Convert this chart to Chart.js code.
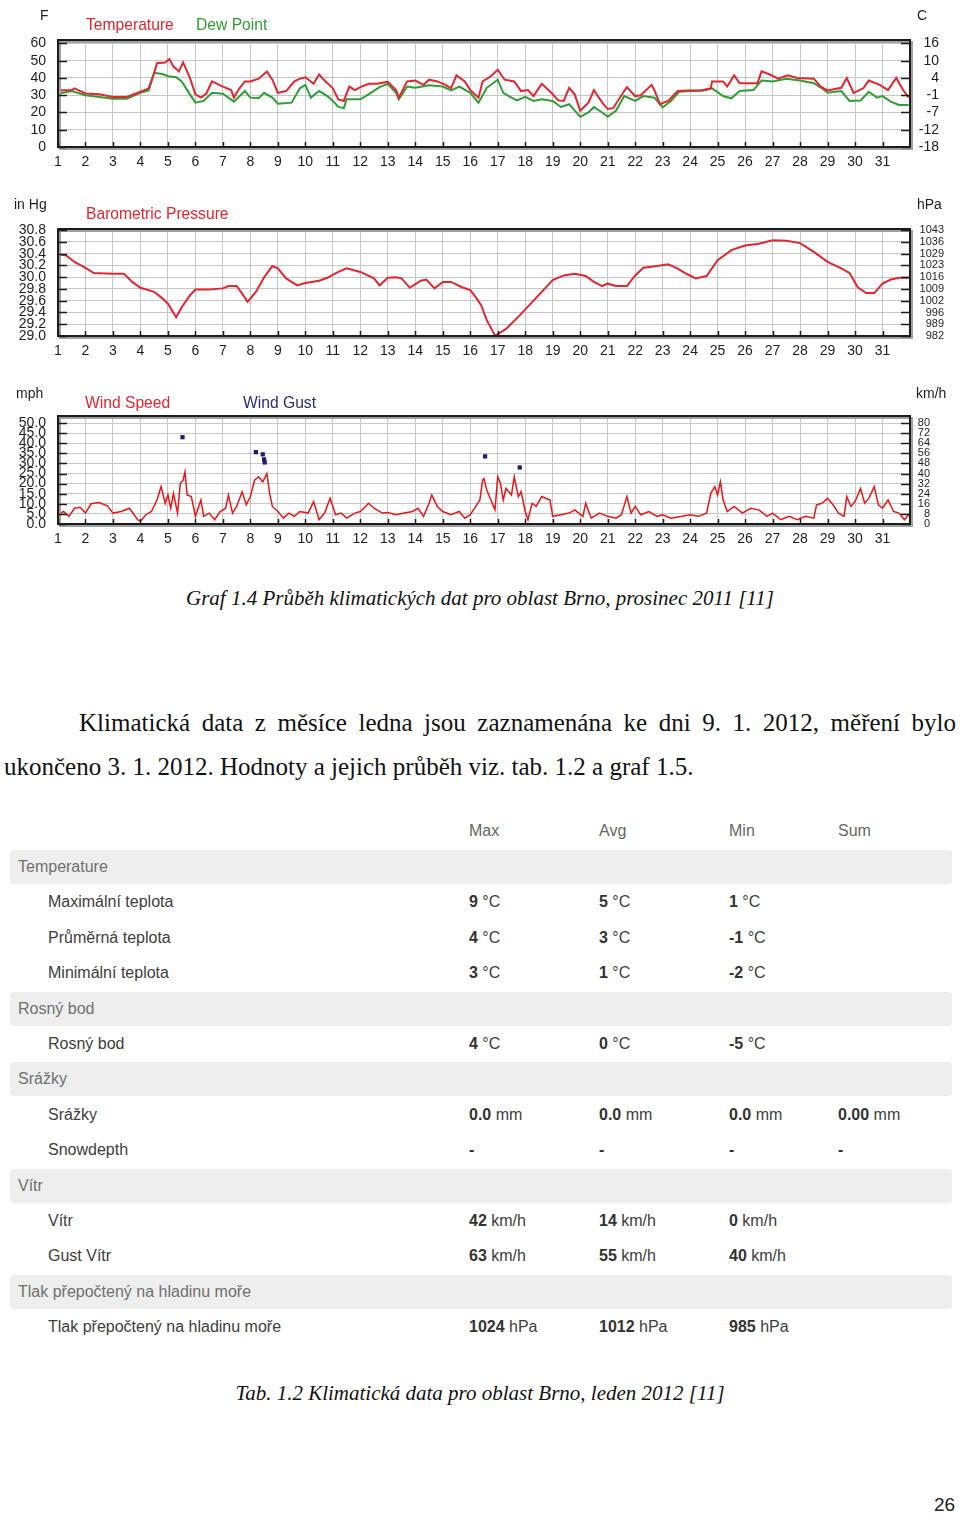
<!DOCTYPE html>
<html lang="cs">
<head>
<meta charset="utf-8">
<script src="https://cdn.jsdelivr.net/npm/chart.js@4.4.1/dist/chart.umd.min.js"></script>
<style>
  body { margin: 0; background: #fff; }
  #page { position: relative; width: 960px; height: 1517px; overflow: hidden; font-family: "Liberation Sans", Arial, sans-serif; }
  canvas { position: absolute; left: 0; }
  .unit { position: absolute; font-size: 14px; color: #1e1e1e; white-space: nowrap; line-height: 16px; }
  .leg { position: absolute; font-size: 17px; line-height: 18px; white-space: nowrap; transform: scaleX(0.92); transform-origin: left center; }
  .cap { position: absolute; left: 0; width: 960px; text-align: center; font-family: "Liberation Serif", "Times New Roman", serif; font-style: italic; font-size: 21px; color: #111; line-height: 24px; }
  .par { position: absolute; font-family: "Liberation Serif", "Times New Roman", serif; font-size: 25px; color: #111; line-height: 28px; white-space: nowrap; }
  .sec { position: absolute; left: 10px; width: 942px; height: 34px; background: #eeeeee; border-radius: 4px; }
  .cell { position: absolute; font-size: 16px; line-height: 20px; white-space: nowrap; color: #3d3d3d; }
  .cell b { font-weight: bold; color: #333; }
</style>
</head>
<body>
<div id="page">
  <canvas id="grafTeplota" width="960" height="178" style="top:0px"></canvas>
  <canvas id="grafTlak" width="960" height="170" style="top:190px"></canvas>
  <canvas id="grafVitr" width="960" height="172" style="top:378px"></canvas>

  <div class="unit" style="left:40px; top:7px;">F</div>
  <div class="unit" style="left:917px; top:7px;">C</div>
  <div class="leg" style="left:86px; top:16px; color:#e3262f;">Temperature</div>
  <div class="leg" style="left:196px; top:16px; color:#2f9e35;">Dew Point</div>

  <div class="unit" style="left:14px; top:196px;">in Hg</div>
  <div class="unit" style="left:917px; top:196px;">hPa</div>
  <div class="leg" style="left:86px; top:205px; color:#e3262f;">Barometric Pressure</div>

  <div class="unit" style="left:16px; top:385px;">mph</div>
  <div class="unit" style="left:916px; top:385px;">km/h</div>
  <div class="leg" style="left:85px; top:394px; color:#e3262f;">Wind Speed</div>
  <div class="leg" style="left:243px; top:394px; color:#2a2a80;">Wind Gust</div>

  <div class="cap" style="top:586px;">Graf 1.4 Průběh klimatických dat pro oblast Brno, prosinec 2011 [11]</div>

  <div class="par" style="left:79px; top:709px; width:877px; text-align:justify; text-align-last:justify;">Klimatická data z měsíce ledna jsou zaznamenána ke dni 9. 1. 2012, měření bylo</div>
  <div class="par" style="left:4px; top:753px;">ukončeno 3. 1. 2012. Hodnoty a jejich průběh viz. tab. 1.2 a graf 1.5.</div>

  <div id="tabulka"></div>

  <div class="cap" style="top:1381px;">Tab. 1.2 Klimatická data pro oblast Brno, leden 2012 [11]</div>
  <div style="position:absolute; left:934px; top:1494px; font-size:19px; color:#222;">26</div>
</div>

<script>
// osa x - dny v měsíci
const dny = [1,2,3,4,5,6,7,8,9,10,11,12,13,14,15,16,17,18,19,20,21,22,23,24,25,26,27,28,29,30,31];

// teplota a rosný bod (F)
const teplotaTicks = [0,10,20,30,40,50,60];
const teplotaFLabels = ['0','10','20','30','40','50','60'];
const teplotaCLabels = ['-18','-12','-7','-1','4','10','16'];

const teplotaDny = [1,1.5,1.6,2,2.5,3,3.5,4,4.3,4.5,4.6,4.9,5.05,5.2,5.4,5.55,5.8,6,6.2,6.4,6.6,7,7.3,7.4,7.6,7.8,8,8.3,8.6,8.8,9,9.3,9.6,9.8,10,10.3,10.5,10.7,11,11.2,11.4,11.6,11.8,12,12.3,12.6,13,13.3,13.4,13.7,14,14.3,14.5,14.8,15.1,15.3,15.5,15.8,16,16.3,16.45,16.75,17,17.25,17.6,17.85,18.1,18.3,18.6,18.95,19.2,19.4,19.6,19.8,20,20.3,20.5,20.8,21,21.2,21.6,21.7,22,22.2,22.6,22.7,22.9,23.2,23.55,23.9,24.4,24.75,24.8,25.2,25.35,25.6,25.8,26.2,26.45,26.6,26.9,27.2,27.55,27.9,28.5,28.75,29,29.5,29.7,29.95,30.3,30.5,30.9,31.2,31.5,31.75,31.95];
const teplotaF = [32.8,33,34,31,30.5,29,29,32,34,43,48.5,49,51,46.7,43.8,49,40,30.5,28.6,31,38,35,33,28.6,34,38,38,39.6,43.8,39,31.4,32.4,38,39.6,40.4,36.6,42,38.5,34,27.6,26.7,35,33,34.7,36.6,36.6,37.7,33,28.6,38,38.5,36,39,38,36,34,41.5,38,33,28.6,38,41,44.8,39,38,32.4,33,29.5,36.6,31.4,27,26.7,34.3,30.5,21,25.7,33,25.7,22,22.5,32.4,34.7,29.5,30,36,33,24.8,26.7,32.4,32.8,32.8,34,38,38,35,41.5,37,37,37,43.8,42,39.6,41.5,40,39.6,35,32.8,34.3,40,31.4,34,38.5,36,33,40,33,28.6];

const rosnyDny = [1,1.5,2,3,3.5,4,4.3,4.5,4.8,5,5.3,5.5,5.8,6,6.3,6.6,7,7.4,7.8,8,8.3,8.5,8.8,9,9.5,9.8,10,10.2,10.5,10.8,11,11.2,11.4,11.5,12,12.3,12.7,13,13.3,13.4,13.7,14,14.5,15,15.3,15.6,16,16.3,16.6,17,17.2,17.5,17.7,18,18.3,18.6,19,19.3,19.6,20,20.3,20.5,20.8,21,21.3,21.6,22,22.3,22.7,23,23.3,23.6,24,24.5,24.8,25.2,25.5,25.8,26.3,26.6,27,27.5,28,28.5,28.8,29,29.5,29.8,30.2,30.5,30.8,31,31.3,31.6,31.95];
const rosnyF = [30.9,32.4,30,28,28,31.4,32.8,43,42.3,41,40.4,38,30.5,25.7,26.7,31.4,30.9,26.3,32.4,28.6,28.2,31.4,28.6,25.1,25.7,34,36,28.6,32.4,29.5,26.7,23.2,22.5,27.6,27.6,30.5,34.7,36.6,31.4,27.6,35,34.3,35.8,35,32.8,35,31.4,25.7,34.3,39,31.4,28.6,27,29,26.7,27.6,26.7,23.2,24.8,17.5,20,23.2,20,17.5,21,29.5,26.7,29.5,28.6,22.9,26.7,32,32.4,32.8,34,29.5,28.2,32.4,33,38.5,38,39.6,38.5,37,34,31.4,32.4,26.7,27,32,28.6,29.5,26.3,24.4,24.4];

// tlak (in Hg)
const tlakTicks = [29.0,29.2,29.4,29.6,29.8,30.0,30.2,30.4,30.6,30.8];
const tlakInLabels = ['29.0','29.2','29.4','29.6','29.8','30.0','30.2','30.4','30.6','30.8'];
const tlakHpaLabels = ['982','989','996','1002','1009','1016','1023','1029','1036','1043'];

const tlakDny = [1,1.3,1.6,2,2.3,3,3.4,3.7,4,4.5,4.8,5,5.3,5.5,5.8,6,6.5,7,7.2,7.5,7.7,7.9,8.2,8.5,8.8,9,9.3,9.7,10,10.5,10.8,11.2,11.5,12,12.5,12.7,13,13.3,13.5,13.8,14.2,14.4,14.7,15,15.3,15.7,16,16.2,16.4,16.6,16.9,17,17.3,17.8,18.2,18.6,19,19.4,19.8,20.2,20.5,20.8,21,21.3,21.7,22,22.3,22.8,23.2,23.5,23.9,24.2,24.6,25,25.5,26,26.5,27,27.5,28,28.5,29,29.5,29.8,30.1,30.4,30.7,31,31.3,31.6,31.95];
const tlakIn = [30.39,30.37,30.26,30.16,30.07,30.06,30.06,29.92,29.82,29.75,29.64,29.55,29.32,29.49,29.69,29.79,29.79,29.81,29.85,29.85,29.72,29.58,29.75,30.0,30.19,30.15,29.98,29.86,29.9,29.94,29.99,30.09,30.15,30.09,29.98,29.86,29.99,30.0,29.98,29.82,29.94,29.96,29.81,29.92,29.92,29.83,29.78,29.66,29.52,29.27,29.01,29.03,29.12,29.35,29.55,29.75,29.95,30.03,30.06,30.02,29.92,29.85,29.89,29.85,29.85,30.03,30.16,30.19,30.22,30.16,30.05,29.98,30.02,30.29,30.46,30.54,30.57,30.63,30.62,30.58,30.43,30.26,30.15,30.07,29.83,29.73,29.73,29.89,29.96,29.99,29.99];

// vítr (mph)
const vitrTicks = [0,5,10,15,20,25,30,35,40,45,50];
const vitrMphLabels = ['0.0','5.0','10.0','15.0','20.0','25.0','30.0','35.0','40.0','45.0','50.0'];
const vitrKmhLabels = ['0','8','16','24','32','40','48','56','64','72','80'];

const vitrDny = [1,1.2,1.4,1.6,1.8,2,2.2,2.5,2.8,3,3.3,3.6,3.9,4,4.2,4.4,4.6,4.75,4.9,5,5.1,5.2,5.35,5.45,5.55,5.62,5.7,5.85,6,6.2,6.3,6.5,6.7,6.9,7.1,7.2,7.35,7.5,7.7,7.85,8,8.15,8.3,8.45,8.6,8.7,8.8,9,9.2,9.4,9.6,9.8,10.1,10.3,10.5,10.7,10.9,11.1,11.3,11.5,11.8,12,12.3,12.5,12.8,13,13.3,13.6,13.9,14.1,14.3,14.5,14.6,14.8,15,15.3,15.6,15.8,16,16.2,16.35,16.45,16.5,16.6,16.75,16.9,17,17.1,17.2,17.3,17.5,17.6,17.75,17.85,18,18.1,18.25,18.4,18.6,18.9,19,19.3,19.6,19.8,20.1,20.2,20.4,20.7,21,21.3,21.5,21.7,21.85,22,22.2,22.5,22.8,23,23.3,23.7,24,24.3,24.6,24.75,24.9,25,25.1,25.2,25.35,25.6,25.9,26.2,26.5,26.8,27,27.3,27.6,27.9,28.2,28.5,28.6,28.8,29,29.2,29.4,29.6,29.7,29.85,30,30.2,30.35,30.5,30.7,30.85,31,31.2,31.4,31.6,31.8,31.95];
const vitrMph = [4.6,6.2,3.8,7.8,8.3,5.4,10,10.6,9,5.4,6.2,7.8,2.1,1.3,4.6,6.2,11.9,18.5,10.3,14.4,7.8,15.2,5.4,20,21.7,25.8,14.4,13.6,3.8,11.9,3.8,5.4,2.1,6.2,7.8,14.4,5.4,8.7,16,9.5,13.6,21.7,23.4,20.9,25,15.2,8.7,6.2,2.9,5.4,3.8,6.2,5.4,11.1,2.1,5.4,12.7,4.6,5.4,2.9,5.4,6.2,10.3,7.8,5.4,5.7,4.6,5.4,6.2,7.8,3.8,10.3,14.4,8.7,6.2,4.6,6.2,2.9,4.6,8.7,11.9,21.7,22.5,16.8,11.9,7,23.4,20.1,11.9,17.6,14.4,23.4,13.6,16,6.2,2.1,10.3,8.7,13.6,11.9,3.8,4.6,5.4,7,3.8,10.3,2.9,5.4,3.8,2.9,4.6,13.6,5.4,8.7,4.6,6.2,3.8,4.6,2.9,3.8,4.6,3.8,5.4,15.2,18.5,14.4,20.9,11.9,6.2,8.7,5.4,7.8,7,3.8,5.4,2.1,3.8,2.1,3.8,2.9,9.5,10.3,12.7,9.5,5.4,3.8,13.6,8.7,11.1,17.6,10.3,12.7,18.5,9.5,7.8,11.9,6.2,5.4,2.1,4.6];

const narazyDny = [5.53,8.2,8.45,8.5,8.52,16.54,17.8];
const narazyMph = [43,35.6,34.5,32,30.5,33.5,28];

// tabulka
const hlavicka = ['Max','Avg','Min','Sum'];
const sloupceX = [469,599,729,838];
const radky = [
  { sekce: 'Temperature' },
  { nazev: 'Maximální teplota', hodnoty: [['9',' °C'],['5',' °C'],['1',' °C']] },
  { nazev: 'Průměrná teplota', hodnoty: [['4',' °C'],['3',' °C'],['-1',' °C']] },
  { nazev: 'Minimální teplota', hodnoty: [['3',' °C'],['1',' °C'],['-2',' °C']] },
  { sekce: 'Rosný bod' },
  { nazev: 'Rosný bod', hodnoty: [['4',' °C'],['0',' °C'],['-5',' °C']] },
  { sekce: 'Srážky' },
  { nazev: 'Srážky', hodnoty: [['0.0',' mm'],['0.0',' mm'],['0.0',' mm'],['0.00',' mm']] },
  { nazev: 'Snowdepth', hodnoty: [['-',''],['-',''],['-',''],['-','']] },
  { sekce: 'Vítr' },
  { nazev: 'Vítr', hodnoty: [['42',' km/h'],['14',' km/h'],['0',' km/h']] },
  { nazev: 'Gust Vítr', hodnoty: [['63',' km/h'],['55',' km/h'],['40',' km/h']] },
  { sekce: 'Tlak přepočtený na hladinu moře' },
  { nazev: 'Tlak přepočtený na hladinu moře', hodnoty: [['1024',' hPa'],['1012',' hPa'],['985',' hPa']] }
];

const bodyXY = (xs, ys) => xs.map((x, i) => ({ x: x, y: ys[i] }));
const rodina = '"Liberation Sans", Arial, sans-serif';
const pismo = { family: rodina, size: 14 };
const mrizka = '#c6c6c6';

// rámeček grafu s vnitřními značkami
const ramecek = {
  id: 'ramecek',
  afterDatasetsDraw(chart) {
    const { ctx, chartArea: a, scales } = chart;
    ctx.save();
    ctx.strokeStyle = '#a0a0a0';
    ctx.lineWidth = 2;
    ctx.strokeRect(a.left + 2, a.top + 2, a.right - a.left, a.bottom - a.top);
    ctx.strokeStyle = '#1c1c1c';
    ctx.strokeRect(a.left, a.top, a.right - a.left, a.bottom - a.top);
    ctx.lineWidth = 1.5;
    ctx.beginPath();
    scales.y.ticks.forEach(t => {
      const y = Math.round(scales.y.getPixelForValue(t.value)) + 0.5;
      ctx.moveTo(a.left, y); ctx.lineTo(a.left + 9, y);
      ctx.moveTo(a.right, y); ctx.lineTo(a.right - 9, y);
    });
    scales.x.ticks.forEach(t => {
      const x = Math.round(scales.x.getPixelForValue(t.value)) + 0.5;
      ctx.moveTo(x, a.bottom); ctx.lineTo(x, a.bottom - 5);
    });
    ctx.stroke();
    ctx.restore();
  }
};

function novyGraf(id, o) {
  return new Chart(document.getElementById(id), {
    type: 'line',
    data: { datasets: o.datasets },
    options: {
      responsive: false,
      animation: false,
      layout: { padding: { top: o.top, right: 50 - o.pravaSirka, left: 0, bottom: 0 } },
      plugins: { legend: { display: false }, tooltip: { enabled: false } },
      elements: { point: { radius: 0 }, line: { tension: 0 } },
      scales: {
        x: {
          type: 'linear', min: 1, max: 32,
          afterBuildTicks: s => { s.ticks = dny.map(v => ({ value: v })); },
          afterFit: s => { s.height = o.osaX; },
          grid: { color: mrizka, drawTicks: false },
          border: { display: false },
          ticks: { autoSkip: false, maxRotation: 0, padding: 7, font: pismo, color: '#1e1e1e', callback: v => String(v) }
        },
        y: {
          position: 'left', min: o.min, max: o.max,
          afterBuildTicks: s => { s.ticks = o.ticks.map(v => ({ value: v })); },
          afterFit: s => { s.width = 58; },
          grid: { color: mrizka, drawTicks: false },
          border: { display: false },
          ticks: { autoSkip: false, padding: 12, font: pismo, color: '#1e1e1e', callback: (v, i) => o.leve[i] }
        },
        y2: {
          position: 'right', min: o.min, max: o.max,
          afterBuildTicks: s => { s.ticks = o.ticks.map(v => ({ value: v })); },
          afterFit: s => { s.width = o.pravaSirka; },
          grid: { display: false, drawTicks: false },
          border: { display: false },
          ticks: { autoSkip: false, crossAlign: 'far', padding: 4, font: { family: rodina, size: o.pravyFont }, color: '#1e1e1e', callback: (v, i) => o.prave[i] }
        }
      }
    },
    plugins: [ramecek]
  });
}

novyGraf('grafTeplota', {
  top: 40, osaX: 31, min: 0, max: 62, pravaSirka: 29, pravyFont: 14,
  ticks: teplotaTicks, leve: teplotaFLabels, prave: teplotaCLabels,
  datasets: [
    { label: 'Temperature', data: bodyXY(teplotaDny, teplotaF), borderColor: '#e3262f', borderWidth: 2 },
    { label: 'Dew Point', data: bodyXY(rosnyDny, rosnyF), borderColor: '#2f9e35', borderWidth: 2 }
  ]
});

novyGraf('grafTlak', {
  top: 39, osaX: 24, min: 29.0, max: 30.82, pravaSirka: 34, pravyFont: 11,
  ticks: tlakTicks, leve: tlakInLabels, prave: tlakHpaLabels,
  datasets: [
    { label: 'Barometric Pressure', data: bodyXY(tlakDny, tlakIn), borderColor: '#e3262f', borderWidth: 2 }
  ]
});

novyGraf('grafVitr', {
  top: 38, osaX: 26, min: 0, max: 53.5, pravaSirka: 20, pravyFont: 11,
  ticks: vitrTicks, leve: vitrMphLabels, prave: vitrKmhLabels,
  datasets: [
    { label: 'Wind Gust', data: bodyXY(narazyDny, narazyMph), showLine: false, pointStyle: 'rect', pointRadius: 3, pointBackgroundColor: '#1d1d6b', pointBorderWidth: 0 },
    { label: 'Wind Speed', data: bodyXY(vitrDny, vitrMph), borderColor: '#ee1515', borderWidth: 1.5 }
  ]
});

// tabulka s daty za leden
const tab = document.getElementById('tabulka');
function bunka(x, yStred, html, barva) {
  const d = document.createElement('div');
  d.className = 'cell';
  d.style.left = x + 'px';
  d.style.top = (yStred - 10) + 'px';
  if (barva) d.style.color = barva;
  d.innerHTML = html;
  tab.appendChild(d);
}
hlavicka.forEach((h, i) => bunka(sloupceX[i], 831, h, '#666'));
let y = 850;
radky.forEach(r => {
  if (r.sekce) {
    const s = document.createElement('div');
    s.className = 'sec';
    s.style.top = y + 'px';
    tab.appendChild(s);
    bunka(18, y + 17, r.sekce, '#707070');
  } else {
    bunka(48, y + 17, r.nazev, '#3d3d3d');
    r.hodnoty.forEach((h, i) => bunka(sloupceX[i], y + 17, '<b>' + h[0] + '</b>' + h[1]));
  }
  y += 35.4;
});
</script>
</body>
</html>
